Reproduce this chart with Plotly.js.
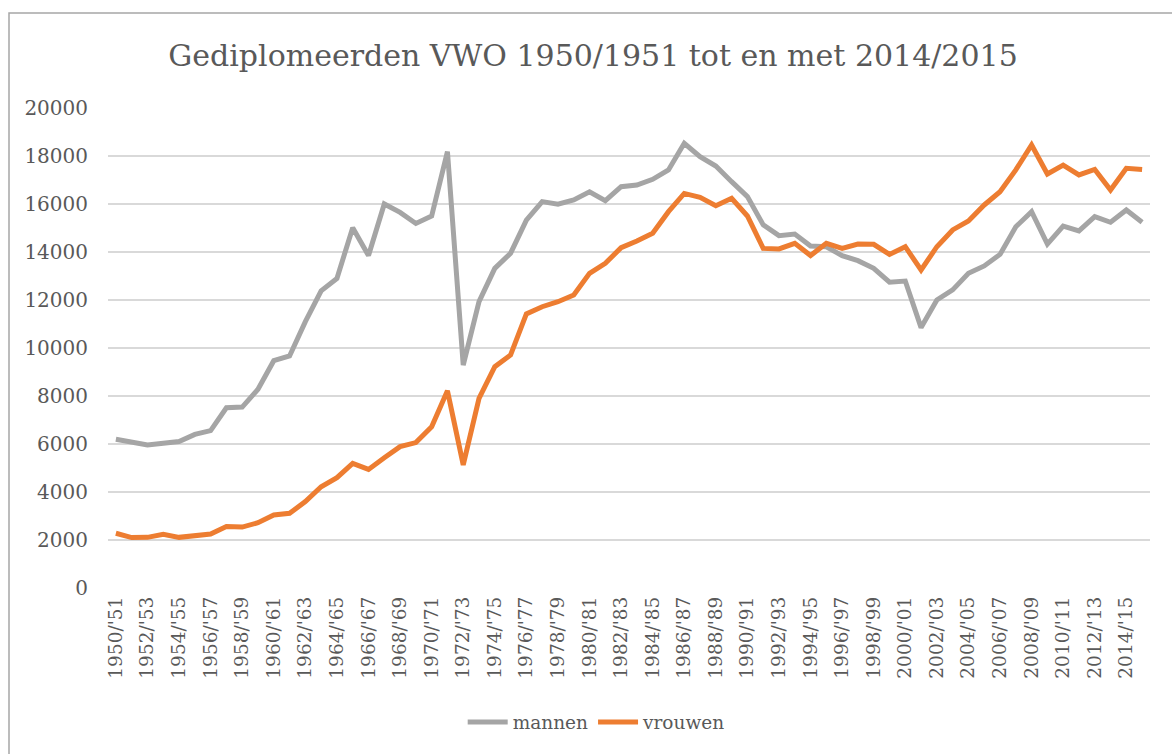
<!DOCTYPE html>
<html>
<head>
<meta charset="utf-8">
<script src="https://cdn.plot.ly/plotly-3.0.1.min.js"></script>
<style>html,body{margin:0;padding:0;background:#fff;}#chart{width:1172px;height:754px;}</style>
</head>
<body>
<div id="chart"></div>
<script>
const startYears = [];
for (let y = 1950; y <= 2015; y++) startYears.push(y);
const categories = startYears.map(y => y + "/'" + String((y + 1) % 100).padStart(2, "0"));

const mannen = [6200,6100,5960,6030,6100,6400,6560,7510,7540,8280,9470,9670,11100,12380,12900,15010,13850,16000,15650,15190,15500,18180,
  9290,
  11930,13320,13950,15330,16100,15990,16170,16510,16140,16720,16790,17030,17420,18530,17970,17580,16930,16310,15130,14680,14750,14250,
  14220,13850,13640,13320,12740,12790,10850,12000,12420,13110,13420,13900,15050,15680,14330,15080,14880,15470,15240,15750,15240];

const vrouwen = [2280,2100,2110,2240,2110,2170,2250,2560,2540,2720,3040,3110,3600,4220,4600,5190,4940,5430,5890,6060,6720,8220,
  5130,
  7900,9220,9710,11420,11720,11930,12210,13110,13530,14180,14460,14780,15680,16440,16280,15930,16240,15500,14150,14130,14360,13850,
  14360,14150,14330,14320,13900,14220,13250,14220,14920,15290,15960,16510,17420,18460,17250,17620,17210,17440,16580,17490,17440];

const tickCats = categories.filter((c, i) => i % 2 === 0);
const yTicks = [0,2000,4000,6000,8000,10000,12000,14000,16000,18000,20000];
const yTickText = yTicks.map(v => String(v));

const fontFam = 'DejaVu Serif';
const txt = '#595959';

const traces = [
  {x: categories, y: mannen, name: 'mannen', type: 'scatter', mode: 'lines',
   line: {color: '#a5a5a5', width: 5, shape: 'linear'}},
  {x: categories, y: vrouwen, name: 'vrouwen', type: 'scatter', mode: 'lines',
   line: {color: '#ed7d31', width: 5, shape: 'linear'}}
];

const layout = {
  width: 1172, height: 754,
  margin: {l: 108, r: 22, t: 108, b: 166},
  paper_bgcolor: '#ffffff', plot_bgcolor: '#ffffff',
  font: {family: fontFam, color: txt, size: 19},
  title: {text: 'Gediplomeerden VWO 1950/1951 tot en met 2014/2015',
          font: {family: fontFam, size: 30, color: txt},
          x: 0.506, xanchor: 'center', y: 0.927, yanchor: 'middle'},
  xaxis: {type: 'category', range: [-0.5, categories.length - 0.5],
          tickmode: 'array', tickvals: tickCats, ticktext: tickCats,
          tickangle: -90, showgrid: false, zeroline: false, showline: false,
          ticks: '', ticklabelstandoff: 4,
          tickfont: {family: fontFam, size: 18.5, color: txt}, fixedrange: true},
  yaxis: {range: [0, 20000], tickmode: 'array', tickvals: yTicks, ticktext: yTickText,
          showgrid: true, gridcolor: '#d9d9d9', gridwidth: 1.5,
          zeroline: false, showline: false, ticks: '', ticklabelstandoff: 19,
          tickfont: {family: fontFam, size: 20, color: txt}, fixedrange: true},
  showlegend: true,
  legend: {orientation: 'h', x: 0.469, xanchor: 'center', y: -0.28, yanchor: 'middle',
           font: {family: fontFam, size: 18.5, color: txt}, itemwidth: 40, traceorder: 'normal'},
  shapes: [{type: 'rect', xref: 'paper', yref: 'paper',
            x0: (9 - 108) / 1042, x1: (1190 - 108) / 1042,
            y0: (588 - 770) / 480, y1: (588 - 13) / 480,
            line: {color: '#a6a6a6', width: 1.5}, fillcolor: 'rgba(0,0,0,0)', layer: 'below'}]
};

Plotly.newPlot('chart', traces, layout, {displayModeBar: false, staticPlot: true});
</script>
</body>
</html>
